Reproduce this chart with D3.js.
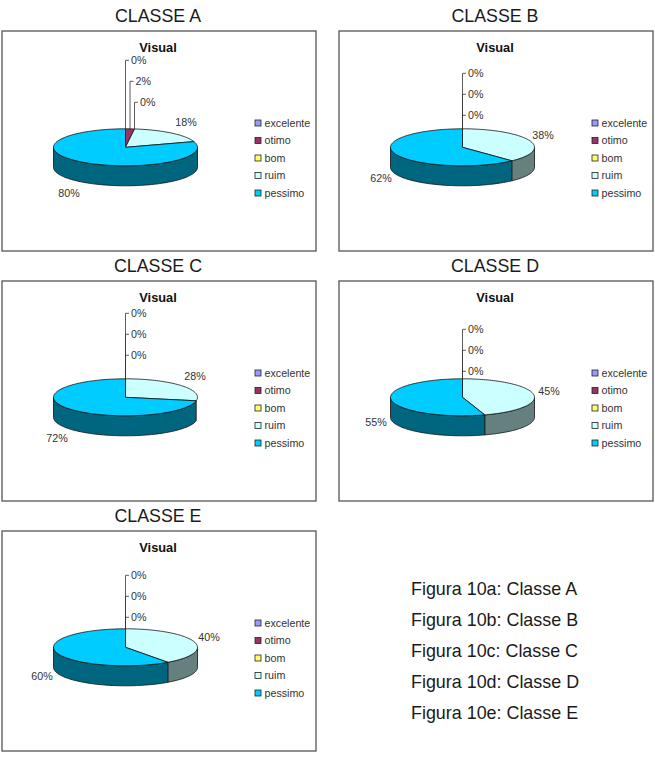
<!DOCTYPE html>
<html>
<head>
<meta charset="utf-8">
<script src="https://cdn.jsdelivr.net/npm/d3@7"></script>
<style>
html,body{margin:0;padding:0;background:#fff}
svg{display:block}
text{font-family:"Liberation Sans",Arial,sans-serif}
</style>
</head>
<body>
<svg id="chart" width="655" height="757"></svg>
<script>
// ---- data ----
const categories = ["excelente", "otimo", "bom", "ruim", "pessimo"];
const classNames = ["CLASSE A", "CLASSE B", "CLASSE C", "CLASSE D", "CLASSE E"];
const chartTitle = "Visual";
const valuesA = [0, 2, 0, 18, 80];
const valuesB = [0, 0, 0, 38, 62];
const valuesC = [0, 0, 0, 28, 72];
const valuesD = [0, 0, 0, 45, 55];
const valuesE = [0, 0, 0, 40, 60];
const allValues = [valuesA, valuesB, valuesC, valuesD, valuesE];
const captions = ["Figura 10a: Classe A", "Figura 10b: Classe B", "Figura 10c: Classe C", "Figura 10d: Classe D", "Figura 10e: Classe E"];

// ---- styles and layout ----
const topColors = ["#9999FF", "#993366", "#FFFF66", "#CCFFFF", "#00CCFF"];
const sideColors = ["#4d4d80", "#4d1933", "#808033", "#668080", "#006680"];
const panelOrigins = [[2, 31], [339, 31], [2, 281], [339, 281], [2, 531]];
// label offsets from the pie centre: zero/small leader heights, then ruim and pessimo labels
const leaderHeights = [[-87, -66, -45], [-74, -53, -32], [-84, -63, -42], [-68, -47, -26], [-72, -51, -30]];
const ruimLabel = [[60.5, -25], [80.5, -12], [69.5, -21], [86.5, -6], [83.5, -10]];
const pessimoLabel = [[-56.5, 46], [-81.5, 31], [-68.5, 41], [-86.5, 25], [-83.5, 29]];
const panelW = 314, panelH = 220, cxOff = 123.5, cyOff = 116.3, rx = 72, ry = 18.5, depth = 20;
const minWallSpan = 0.25; // a sliver of wall narrower than this is hidden by the perspective

const svg = d3.select("#chart");
const pie = d3.pie().sort(null).value(d => d).startAngle(0).endAngle(2 * Math.PI);
const legendY = d3.scalePoint().domain(categories).range([92, 162]);

classNames.forEach((name, p) => {
  const [ox, oy] = panelOrigins[p];
  const cx = ox + cxOff, cy = oy + cyOff;
  svg.append("text").attr("x", ox + 156).attr("y", oy - 9)
    .attr("text-anchor", "middle").attr("font-size", 17.8).attr("fill", "#1a1a1a").text(name);
  const g = svg.append("g");
  g.append("rect").attr("x", ox).attr("y", oy).attr("width", panelW).attr("height", panelH)
    .attr("fill", "#fff").attr("stroke", "#555").attr("stroke-width", 1.3);
  g.append("text").attr("x", ox + 156).attr("y", oy + 21)
    .attr("text-anchor", "middle").attr("font-size", 12.8).attr("font-weight", "bold")
    .attr("fill", "#111").text(chartTitle);

  const arcs = pie(allValues[p]);
  const px = a => cx + rx * Math.sin(a);
  const py = a => cy - ry * Math.cos(a);
  const line = d3.line().x(d => d[0]).y(d => d[1]);
  const sample = (a0, a1) => {
    const n = Math.max(2, Math.ceil((a1 - a0) / 0.03));
    return d3.range(n + 1).map(i => a0 + (a1 - a0) * i / n);
  };

  // side walls (front half of the cylinder only)
  let wallFrom = Math.PI / 2;
  arcs.forEach((d, i) => {
    if (d.value === 0) return;
    const a0 = Math.max(d.startAngle, wallFrom);
    const a1 = Math.min(d.endAngle, 3 * Math.PI / 2);
    if (a1 <= a0) return;
    if (a1 - a0 < minWallSpan) { wallFrom = a0; return; }
    const as = sample(a0, a1);
    const pts = as.map(a => [px(a), py(a)]).concat(as.slice().reverse().map(a => [px(a), py(a) + depth]));
    g.append("path").attr("d", line(pts) + "Z").attr("fill", sideColors[i])
      .attr("stroke", "#111").attr("stroke-width", 0.8).attr("stroke-linejoin", "round");
    wallFrom = a1;
  });
  // top faces
  arcs.forEach((d, i) => {
    if (d.value === 0) return;
    const pts = [[cx, cy]].concat(sample(d.startAngle, d.endAngle).map(a => [px(a), py(a)]));
    g.append("path").attr("d", line(pts) + "Z").attr("fill", topColors[i])
      .attr("stroke", "#111").attr("stroke-width", 0.8).attr("stroke-linejoin", "round");
  });
  // leader lines with labels for the first three categories
  arcs.slice(0, 3).forEach((d, i) => {
    const mid = (d.startAngle + d.endAngle) / 2;
    const x = px(mid), yTop = cy + leaderHeights[p][i];
    g.append("path").attr("d", line([[x + 3.5, yTop], [x, yTop], [x, py(mid)]]))
      .attr("fill", "none").attr("stroke", "#333").attr("stroke-width", 0.8);
    g.append("text").attr("x", x + 5.5).attr("y", yTop + 3.8).attr("font-size", 10.7)
      .attr("fill", "#333").text(d.value + "%");
  });
  // ruim and pessimo labels
  [[3, ruimLabel[p]], [4, pessimoLabel[p]]].forEach(([i, off]) => {
    g.append("text").attr("x", cx + off[0]).attr("y", cy + off[1] + 3.8)
      .attr("text-anchor", "middle").attr("font-size", 10.7).attr("fill", "#333")
      .text(arcs[i].value + "%");
  });
  // legend
  categories.forEach((c, i) => {
    const y = oy + legendY(c);
    g.append("rect").attr("x", ox + 253).attr("y", y - 3).attr("width", 6).attr("height", 6)
      .attr("fill", topColors[i]).attr("stroke", "#222").attr("stroke-width", 0.8);
    g.append("text").attr("x", ox + 262.5).attr("y", y + 3.8).attr("font-size", 10.7)
      .attr("fill", "#333").text(c);
  });
});

const captionY = d3.scalePoint().domain(captions).range([595, 719]);
captions.forEach(c => {
  svg.append("text").attr("x", 411).attr("y", captionY(c)).attr("font-size", 17.9)
    .attr("fill", "#1a1a1a").text(c);
});
</script>
</body>
</html>
